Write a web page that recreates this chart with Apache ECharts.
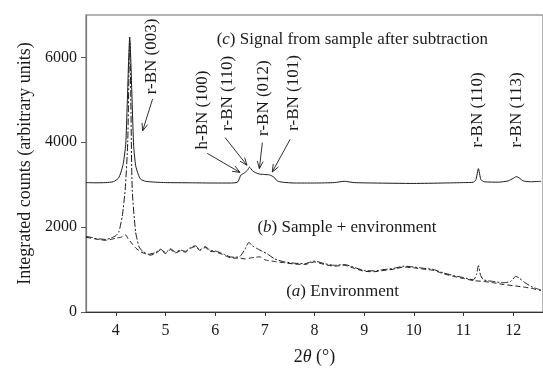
<!DOCTYPE html>
<html>
<head>
<meta charset="utf-8">
<script src="https://cdn.jsdelivr.net/npm/echarts@6/dist/echarts.min.js"></script>
<style>
  html, body { margin: 0; padding: 0; background: #fff; }
  #chart { width: 543px; height: 371px; }
</style>
</head>
<body>
<div id="chart"></div>
<script>
// X-ray diffraction scans, 2θ in degrees vs integrated counts

// (c) signal from sample after subtraction
const thetaSignal = [3.40, 3.60, 3.80, 3.95, 4.05, 4.10, 4.15, 4.20, 4.23, 4.26, 4.28, 4.30, 4.33, 4.36, 4.40, 4.45, 4.50, 4.60, 4.80, 5.00, 5.50, 6.00, 6.30, 6.45, 6.52, 6.58, 6.65, 6.69, 6.75, 6.82, 6.90, 7.00, 7.10, 7.18, 7.25, 7.35, 7.60, 8.00, 8.40, 8.60, 8.80, 9.20, 10.00, 10.60, 11.00, 11.20, 11.25, 11.30, 11.35, 11.42, 11.70, 11.90, 12.00, 12.06, 12.12, 12.20, 12.35, 12.56];
const countsSignal = [3050, 3045, 3050, 3070, 3150, 3280, 3500, 3950, 4900, 6000, 6480, 6000, 4900, 3900, 3450, 3250, 3130, 3080, 3060, 3050, 3045, 3040, 3040, 3060, 3230, 3270, 3340, 3415, 3330, 3280, 3250, 3240, 3230, 3180, 3090, 3060, 3040, 3040, 3050, 3080, 3050, 3040, 3030, 3040, 3050, 3060, 3120, 3380, 3120, 3070, 3060, 3090, 3150, 3190, 3160, 3090, 3070, 3080];

// (b) sample + environment
const thetaSample = [3.40, 3.50, 3.60, 3.70, 3.80, 3.90, 4.00, 4.06, 4.13, 4.19, 4.24, 4.27, 4.28, 4.30, 4.33, 4.40, 4.47, 4.55, 4.65, 4.80, 4.90, 5.00, 5.10, 5.20, 5.30, 5.40, 5.50, 5.60, 5.70, 5.80, 5.90, 6.00, 6.10, 6.20, 6.30, 6.40, 6.50, 6.60, 6.68, 6.75, 6.85, 6.95, 7.05, 7.20, 7.40, 7.60, 7.80, 8.00, 8.20, 8.40, 8.60, 8.80, 9.00, 9.20, 9.40, 9.60, 9.80, 10.00, 10.20, 10.40, 10.60, 10.80, 11.00, 11.20, 11.26, 11.30, 11.34, 11.40, 11.60, 11.80, 11.95, 12.05, 12.12, 12.25, 12.40, 12.56];
const countsSample = [1780, 1760, 1730, 1720, 1710, 1740, 1800, 1880, 2260, 2900, 4000, 6000, 6350, 5200, 2900, 1880, 1530, 1420, 1360, 1400, 1480, 1400, 1490, 1410, 1460, 1430, 1520, 1560, 1470, 1540, 1450, 1440, 1400, 1350, 1300, 1290, 1310, 1480, 1640, 1560, 1490, 1430, 1370, 1250, 1180, 1150, 1140, 1200, 1140, 1100, 1120, 1050, 980, 970, 1000, 1030, 1080, 1060, 1030, 1000, 920, 860, 810, 760, 880, 1090, 880, 760, 720, 690, 720, 840, 800, 680, 580, 520];

// (a) environment only
const thetaEnv = [3.40, 3.50, 3.60, 3.70, 3.80, 3.90, 4.00, 4.10, 4.15, 4.20, 4.25, 4.30, 4.40, 4.50, 4.60, 4.70, 4.80, 4.90, 5.00, 5.10, 5.20, 5.30, 5.40, 5.50, 5.60, 5.70, 5.80, 5.90, 6.00, 6.10, 6.20, 6.30, 6.40, 6.50, 6.60, 6.70, 6.80, 6.90, 7.00, 7.20, 7.40, 7.60, 7.80, 8.00, 8.20, 8.40, 8.60, 8.80, 9.00, 9.20, 9.40, 9.60, 9.80, 10.00, 10.20, 10.40, 10.60, 10.80, 11.00, 11.20, 11.40, 11.60, 11.80, 12.00, 12.20, 12.40, 12.56];
const countsEnv = [1760, 1740, 1720, 1700, 1690, 1710, 1740, 1760, 1790, 1815, 1720, 1650, 1510, 1420, 1370, 1340, 1380, 1460, 1380, 1470, 1390, 1440, 1410, 1500, 1540, 1450, 1520, 1430, 1420, 1380, 1330, 1280, 1270, 1270, 1250, 1270, 1290, 1300, 1230, 1190, 1160, 1130, 1120, 1180, 1120, 1080, 1100, 1030, 960, 950, 980, 1010, 1060, 1040, 1010, 980, 900, 840, 790, 740, 720, 690, 650, 620, 590, 550, 500];

// axis ticks
const xTicks = [4, 5, 6, 7, 8, 9, 10, 11, 12];
const yTicks = [0, 2000, 4000, 6000];

// peak assignments: label, label position (θ, counts at text foot), arrow start and tip
const peakNames = ['r-BN (003)', 'h-BN (100)', 'r-BN (110)', 'r-BN (012)', 'r-BN (101)', 'r-BN (110)', 'r-BN (113)'];
const peakLabelAt = [[4.72, 5130], [5.74, 3830], [6.24, 4270], [6.98, 4150], [7.58, 4270], [11.28, 3880], [12.06, 3880]];
const peakArrows = [
  [[4.74, 5020], [4.54, 4270]],
  [[5.84, 3740], [6.50, 3290]],
  [[6.20, 4110], [6.64, 3460]],
  [[6.95, 3990], [6.89, 3380]],
  [[7.51, 4070], [7.15, 3300]],
  null,
  null
];

// curve captions: [θ, counts] of left end, rich text
const captions = [
  { at: [6.03, 6420], text: '({i|c}) Signal from sample after subtraction' },
  { at: [6.85, 2000], text: '({i|b}) Sample + environment' },
  { at: [7.43, 490], text: '({i|a}) Environment' }
];

const FONT = '"Liberation Serif", "DejaVu Serif", serif';
const INK = '#1a1a1a';

const zip = (xs, ys) => xs.map((x, i) => [x, ys[i]]);

const chart = echarts.init(document.getElementById('chart'), null, { renderer: 'canvas' });

const option = {
  animation: false,
  backgroundColor: '#fff',
  grid: {
    left: 86, top: 15, right: -2, bottom: 53,
    show: true, borderColor: '#9a9a9a', borderWidth: 1.5, backgroundColor: 'transparent'
  },
  xAxis: {
    type: 'value', min: 3.4, max: 12.6,
    name: '2{i|θ} (°)', nameLocation: 'middle', nameGap: 36,
    nameTextStyle: { fontFamily: FONT, fontSize: 18, color: INK, rich: { i: { fontFamily: FONT, fontSize: 18, fontStyle: 'italic', color: INK } } },
    axisLine: { show: true, lineStyle: { color: '#333', width: 1.2 } },
    axisTick: { show: true, inside: false, length: 4, customValues: xTicks, lineStyle: { color: '#333' } },
    axisLabel: { customValues: xTicks, formatter: (v) => String(v), fontFamily: FONT, fontSize: 16, color: INK, margin: 11 },
    splitLine: { show: false }
  },
  yAxis: {
    type: 'value', min: 0, max: 7000,
    name: 'Integrated counts (arbitrary units)', nameLocation: 'middle', nameGap: 44,
    nameTextStyle: { fontFamily: FONT, fontSize: 18, color: INK },
    axisLine: { show: true, lineStyle: { color: '#777', width: 1.2 } },
    axisTick: { show: true, inside: false, length: 5, customValues: yTicks, lineStyle: { color: '#555' } },
    axisLabel: { customValues: yTicks, formatter: (v) => String(v), fontFamily: FONT, fontSize: 16, color: INK, margin: 9 },
    splitLine: { show: false }
  },
  series: [
    {
      name: '(c) Signal from sample after subtraction', type: 'line',
      data: zip(thetaSignal, countsSignal), showSymbol: false, smooth: 0.2,
      lineStyle: { color: INK, width: 1, type: 'solid' }, z: 3
    },
    {
      name: '(b) Sample + environment', type: 'line',
      data: zip(thetaSample, countsSample), showSymbol: false, smooth: 0.2,
      lineStyle: { color: INK, width: 1, type: [7, 2, 2, 2] }, z: 2
    },
    {
      name: '(a) Environment', type: 'line',
      data: zip(thetaEnv, countsEnv), showSymbol: false, smooth: 0.2,
      lineStyle: { color: INK, width: 1, type: [5, 3] }, z: 2
    }
  ]
};

chart.setOption(option);

// annotations placed through the grid's own coordinate system
const toPx = (p) => chart.convertToPixel({ gridIndex: 0 }, p);
const graphics = [];

peakNames.forEach((name, i) => {
  const [x, y] = toPx(peakLabelAt[i]);
  graphics.push({
    type: 'text', x: x, y: y, rotation: Math.PI / 2, z: 10,
    style: {
      text: name, font: '17px ' + FONT, fill: INK,
      textAlign: 'left', textVerticalAlign: 'middle', align: 'left', verticalAlign: 'middle'
    }
  });
  const arrow = peakArrows[i];
  if (arrow) {
    const a = toPx(arrow[0]);
    const b = toPx(arrow[1]);
    graphics.push({
      type: 'line', z: 10,
      shape: { x1: a[0], y1: a[1], x2: b[0], y2: b[1] },
      style: { stroke: INK, lineWidth: 0.9 }
    });
    const ang = Math.atan2(b[1] - a[1], b[0] - a[0]);
    const len = 8, spread = 0.38;
    graphics.push({
      type: 'polyline', z: 10,
      shape: {
        points: [
          [b[0] - len * Math.cos(ang - spread), b[1] - len * Math.sin(ang - spread)],
          [b[0], b[1]],
          [b[0] - len * Math.cos(ang + spread), b[1] - len * Math.sin(ang + spread)]
        ]
      },
      style: { stroke: INK, lineWidth: 0.9, fill: null }
    });
  }
});

captions.forEach((c) => {
  const [x, y] = toPx(c.at);
  graphics.push({
    type: 'text', x: x, y: y, z: 10,
    style: {
      text: c.text, font: '17px ' + FONT, fill: INK,
      textAlign: 'left', textVerticalAlign: 'middle', align: 'left', verticalAlign: 'middle',
      rich: { i: { fontFamily: FONT, fontSize: 17, fontStyle: 'italic', fill: INK } }
    }
  });
});

chart.setOption({ graphic: graphics });
</script>
</body>
</html>
